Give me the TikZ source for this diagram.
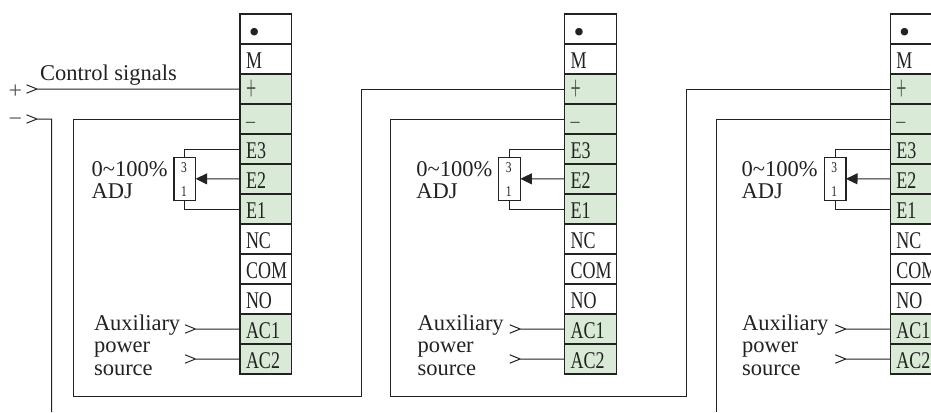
\documentclass[tikz,border=0pt]{standalone}
\usepackage{fontspec}
\setmainfont{Liberation Serif}
\usetikzlibrary{arrows.meta}
\definecolor{ink}{HTML}{222222}
\definecolor{termgreen}{HTML}{D9EBD6}
\definecolor{signgrey}{HTML}{555555}
\newcommand{\condensed}[1]{\hspace*{6pt}\scalebox{.75}[1]{#1}}
\tikzset{
  cell/.style={draw=ink,line width=1.1pt,inner sep=0pt,outer sep=0pt,minimum width=51.7pt,
    text width=51.7pt,align=left,text height=24.3pt,text depth=5.7pt,text=ink,
    font=\fontsize{24}{24}\selectfont},
  wire/.style={draw=ink,line width=1pt},
  label/.style={inner sep=0pt,outer sep=0pt,anchor=base west,text=ink,font=\fontsize{22.5}{22.5}\selectfont},
  sign/.style={inner sep=0pt,outer sep=0pt,anchor=base,text=signgrey,font=\fontsize{24}{24}\selectfont},
  potbox/.style={draw=ink,line width=1.1pt,fill=white,inner sep=0pt,outer sep=0pt,minimum width=21.7pt,minimum height=43pt},
  potnum/.style={inner sep=0pt,outer sep=0pt,anchor=base,text=ink,font=\fontsize{15}{15}\selectfont},
  tipped/.style={wire,-{Triangle[length=11.5pt,width=11pt]}},
}
\begin{document}
\begin{tikzpicture}[x=1pt,y=-1pt]
\useasboundingbox (0,0) rectangle (931,412);
\clip (0,0) rectangle (931,412);
\fill[white] (0,0) rectangle (931,412);

% terminal columns and everything repeated per column
\foreach \c/\x/\lx/\ax in {a/240/91.7/94,b/564.7/416.4/417.5,c/890.3/741.7/742}{
  \foreach \i/\t/\f in {
    1/{\hspace*{8.8pt}\raisebox{-4pt}{\scalebox{1.3}{•}}}/white,
    2/{\condensed{M}}/white,
    3/{\hspace*{6pt}\raisebox{-2.5pt}{\scalebox{.75}[1.5]{\textcolor{signgrey}{+}}}}/termgreen,
    4/{\condensed{\textcolor{signgrey}{–}}}/termgreen,
    5/{\condensed{E3}}/termgreen,
    6/{\condensed{E2}}/termgreen,
    7/{\condensed{E1}}/termgreen,
    8/{\condensed{NC}}/white,
    9/{\condensed{COM}}/white,
    10/{\condensed{NO}}/white,
    11/{\condensed{AC1}}/termgreen,
    12/{\condensed{AC2}}/termgreen}{
    \node[cell,fill=\f] (\c\i) at ({\x+25.85},{29+(\i-1)*30}) {\t};
  }
  % potentiometer
  \node[potbox] (pot\c) at ({\x-55.15},178.8) {};
  \node[potnum] (pot\c three) at ({\x-56},172) {\scalebox{.76}[1]{3}};
  \node[potnum] (pot\c one) at ({\x-56},196.7) {\scalebox{.76}[1]{1}};
  \draw[wire] (\c5.west) -| (pot\c.north);
  \draw[wire] (\c7.west) -| (pot\c.south);
  \draw[tipped] (\c6.west) -- (pot\c.east);
  \node[label] (adj\c) at (\lx,176.7) {0\textasciitilde100\%};
  \node[label] (adjb\c) at (\lx,198.3) {ADJ};
  % auxiliary power
  \node[label] (auxa\c) at (\ax,330) {Auxiliary};
  \node[label] (auxb\c) at (\ax,352.5) {power};
  \node[label] (auxc\c) at (\ax,375) {source};
  \coordinate (aca\c) at ({\x-44.5},329);
  \coordinate (acb\c) at ({\x-44.5},359);
  \draw[wire] (\c11.west) -- (aca\c) -- ++(-10.5,-4.2) (aca\c) -- ++(-10.5,4.2);
  \draw[wire] (\c12.west) -- (acb\c) -- ++(-10.5,-4.2) (acb\c) -- ++(-10.5,4.2);
}

% control signal inputs
\node[label] (ctrl) at (40,81) {Control signals};
\node[sign] (plus) at (15.3,98.7) {+};
\node[sign] (minus) at (15.3,126.5) {−};
\coordinate (plustip) at (37,89);
\coordinate (minustip) at (37,119);
\coordinate (minusend) at (51.7,412);
\draw[wire] (a3.west) -- (plustip) -- ++(-10.5,-4.2) (plustip) -- ++(-10.5,4.2);
\draw[wire] (minusend) |- (minustip) -- ++(-10.5,-4.2) (minustip) -- ++(-10.5,4.2);

% daisy chain
\coordinate (abl) at (73.5,396.3);
\coordinate (abr) at (361.3,396.3);
\coordinate (bcl) at (390.7,396.3);
\coordinate (bcr) at (686.7,396.3);
\coordinate (cend) at (716.7,412);
\draw[wire] (a4.west) -| (abl) -- (abr) |- (b3.west);
\draw[wire] (b4.west) -| (bcl) -- (bcr) |- (c3.west);
\draw[wire] (c4.west) -| (cend);
\end{tikzpicture}
\end{document}
